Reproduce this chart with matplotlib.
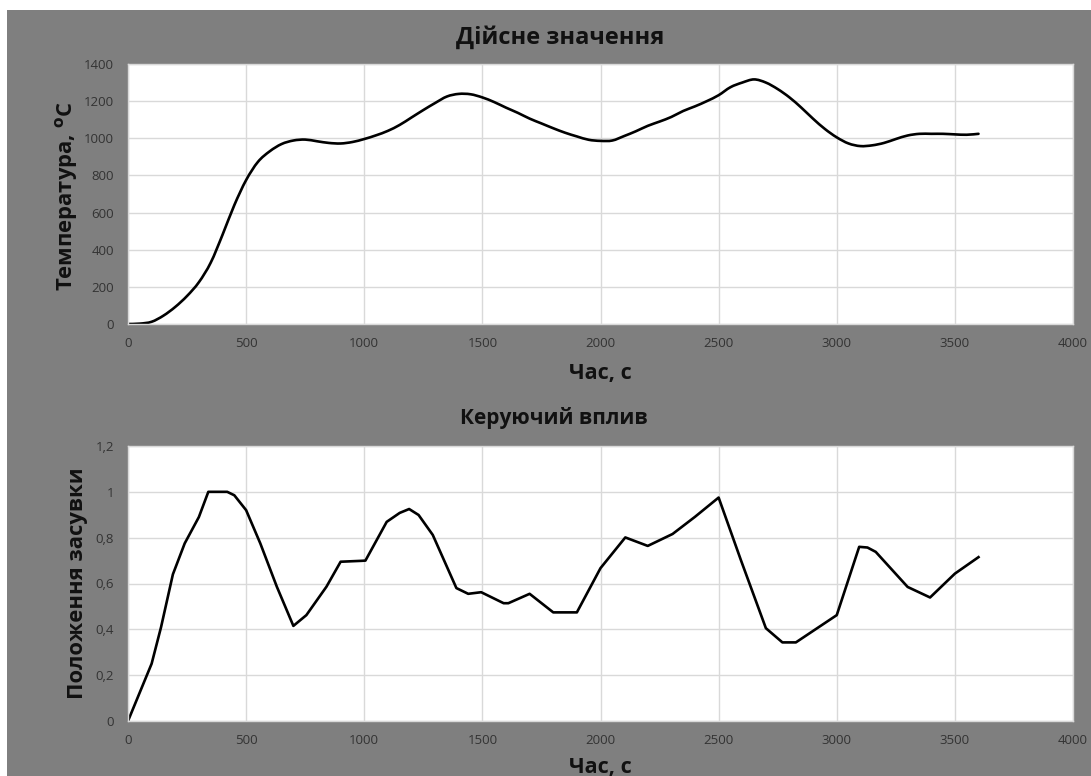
import matplotlib
matplotlib.use("Agg")
import matplotlib.pyplot as plt
import numpy as np
from matplotlib.patches import Rectangle, PathPatch
from matplotlib.path import Path

plt.rcParams['font.family'] = ['Open Sans', 'DejaVu Sans']

# temperature (top chart)
temp_t = [0, 50, 100, 150, 200, 250, 300, 350, 400, 450, 500, 550, 600, 650, 700,
          750, 800, 850, 900, 950, 1000, 1050, 1100, 1150, 1200, 1250, 1300, 1350,
          1400, 1450, 1500, 1550, 1600, 1650, 1700, 1750, 1800, 1850, 1900, 1950,
          2000, 2050, 2100, 2150, 2200, 2250, 2300, 2350, 2400, 2450, 2500, 2550,
          2600, 2650, 2700, 2750, 2800, 2850, 2900, 2950, 3000, 3050, 3100, 3150,
          3200, 3250, 3300, 3350, 3400, 3450, 3500, 3550, 3600]
temp_v = [0, 2, 12, 45, 92, 151, 225, 330, 480, 640, 775, 873, 930, 969, 988,
          993, 984, 975, 972, 980, 996, 1016, 1040, 1072, 1112, 1152, 1190, 1225,
          1239, 1237, 1220, 1195, 1165, 1137, 1106, 1080, 1054, 1030, 1010, 992,
          986, 988, 1012, 1038, 1067, 1090, 1115, 1147, 1172, 1200, 1232, 1275,
          1300, 1317, 1300, 1265, 1220, 1165, 1105, 1050, 1005, 972, 958, 962,
          975, 996, 1015, 1024, 1024, 1024, 1021, 1019, 1024]

# valve position (bottom chart)
valve_t = [0, 100, 140, 190, 240, 300, 340, 420, 450, 500, 560, 630, 700, 755, 840,
           900, 990, 1005, 1095, 1150, 1190, 1230, 1290, 1390, 1440, 1495, 1590,
           1610, 1700, 1800, 1900, 2000, 2105, 2200, 2305, 2400, 2500, 2595, 2700,
           2770, 2827, 3000, 3095, 3130, 3165, 3300, 3395, 3500, 3600]
valve_v = [0, 0.25, 0.41, 0.64, 0.775, 0.89, 1.0, 1.0, 0.985, 0.92, 0.775, 0.586,
           0.415, 0.462, 0.586, 0.695, 0.699, 0.70, 0.869, 0.908, 0.925, 0.899,
           0.812, 0.58, 0.555, 0.562, 0.514, 0.514, 0.555, 0.474, 0.474, 0.667,
           0.801, 0.764, 0.816, 0.891, 0.975, 0.70, 0.405, 0.343, 0.343, 0.462,
           0.76, 0.757, 0.738, 0.585, 0.539, 0.643, 0.715]

x_ticks = [0, 500, 1000, 1500, 2000, 2500, 3000, 3500, 4000]
temp_ticks = [0, 200, 400, 600, 800, 1000, 1200, 1400]
valve_ticks = [0, 0.2, 0.4, 0.6, 0.8, 1.0, 1.2]
valve_labels = ['0', '0,2', '0,4', '0,6', '0,8', '1', '1,2']

W, H = 1091, 776
fig = plt.figure(figsize=(W / 100, H / 100), dpi=100, facecolor='white')
# gray chart area (white strip on top and left like the screenshot)
fig.patches.append(Rectangle((7 / W, 0), 1 - 7 / W, 1 - 10 / H,
                             transform=fig.transFigure, facecolor='#7f7f7f',
                             edgecolor='none', zorder=-10))

ax1 = fig.add_axes([128 / W, 1 - 324 / H, 945 / W, 260 / H])
ax2 = fig.add_axes([128 / W, 1 - 721 / H, 945 / W, 275 / H])


def style(ax, yticks, ylabels, ymax):
    ax.set_facecolor('white')
    ax.set_xlim(0, 4000)
    ax.set_ylim(0, ymax)
    ax.set_xticks(x_ticks)
    ax.set_xticklabels([str(t) for t in x_ticks])
    ax.set_yticks(yticks)
    ax.set_yticklabels(ylabels)
    ax.grid(True, color='#d9d9d9', lw=1)
    ax.set_axisbelow(True)
    ax.tick_params(length=0, labelsize=9.5, colors='#333333')
    ax.tick_params(axis='y', pad=10)
    ax.tick_params(axis='x', pad=9)
    for s in ax.spines.values():
        s.set_color('#d9d9d9')
        s.set_linewidth(1)


def smooth_line(ax, xs, ys, **kw):
    # Excel-like smoothed line: Catmull-Rom segments drawn as cubic Beziers
    p = np.column_stack([xs, ys]).astype(float)
    verts = [p[0]]
    codes = [Path.MOVETO]
    n = len(p)
    for i in range(n - 1):
        p0 = p[max(i - 1, 0)]
        p1, p2 = p[i], p[i + 1]
        p3 = p[min(i + 2, n - 1)]
        verts += [p1 + (p2 - p0) / 6, p2 - (p3 - p1) / 6, p2]
        codes += [Path.CURVE4] * 3
    ax.add_patch(PathPatch(Path(verts, codes), fill=False, **kw))


smooth_line(ax1, temp_t, temp_v, edgecolor='black', lw=1.9, capstyle='round')
style(ax1, temp_ticks, [str(t) for t in temp_ticks], 1400)
ax2.plot(valve_t, valve_v, color='black', lw=1.9, solid_joinstyle='round')
style(ax2, valve_ticks, valve_labels, 1.2)

fig.text(560 / W, 1 - 38 / H, 'Дійсне значення', ha='center', va='center',
         fontsize=17, fontweight='bold', color='#111111')
fig.text(600 / W, 1 - 373 / H, 'Час, с', ha='center', va='center',
         fontsize=15.5, fontweight='bold', color='#111111')
fig.text(554 / W, 1 - 418 / H, 'Керуючий вплив', ha='center', va='center',
         fontsize=15, fontweight='bold', color='#111111')
fig.text(600 / W, 1 - 767 / H, 'Час, с', ha='center', va='center',
         fontsize=15.5, fontweight='bold', color='#111111')
fig.text(66 / W, 1 - 196 / H, r'Температура, $^{\mathbf{o}}$С', ha='center',
         va='center', rotation=90, fontsize=15.8, fontweight='bold',
         color='#111111')
fig.text(77 / W, 1 - 583 / H, 'Положення засувки', ha='center', va='center',
         rotation=90, fontsize=15.8, fontweight='bold', color='#111111')

fig.savefig('out.png', dpi=100, facecolor=fig.get_facecolor())
